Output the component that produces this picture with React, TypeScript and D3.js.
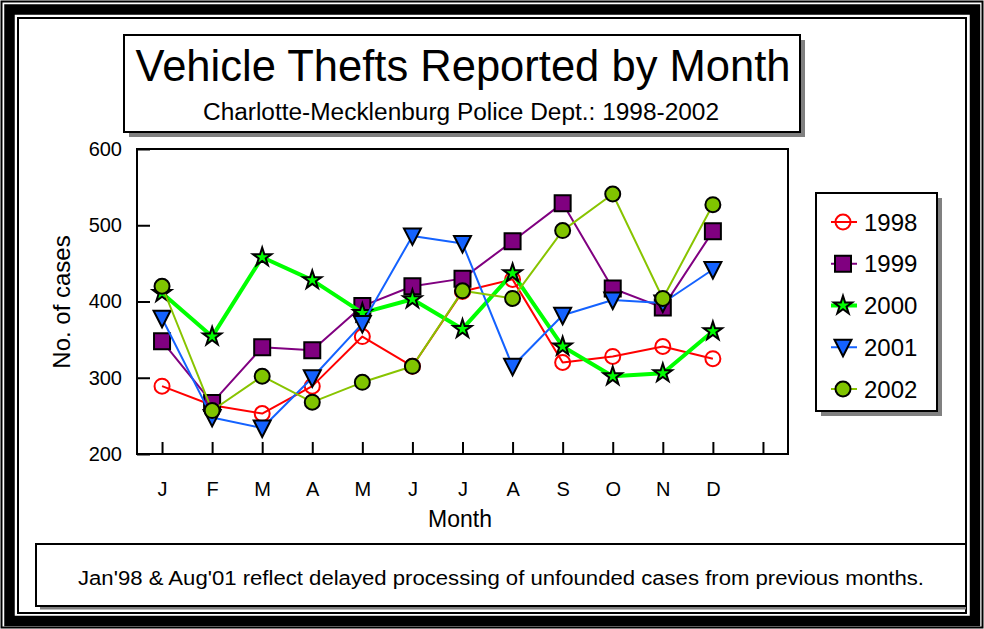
import React, { useEffect, useRef } from "react";
import * as d3 from "d3";

const months = ["J", "F", "M", "A", "M", "J", "J", "A", "S", "O", "N", "D"];
const years = ["1998", "1999", "2000", "2001", "2002"];
const yTicks = [200, 300, 400, 500, 600];

const v1998 = [289, 264, 253, 289, 354, 315, 413, 429, 320, 328, 341, 325];
const v1999 = [348, 267, 340, 336, 394, 420, 430, 479, 529, 417, 392, 492];
const v2000 = [411, 354, 458, 428, 385, 403, 364, 437, 341, 302, 306, 361];
const v2001 = [378, 248, 234, 300, 371, 486, 476, 315, 382, 402, 398, 442];
const v2002 = [420, 257, 302, 268, 294, 315, 414, 404, 493, 541, 404, 527];

const title = "Vehicle Thefts Reported by Month";
const subtitle = "Charlotte-Mecklenburg Police Dept.: 1998-2002";
const note =
  "Jan'98 & Aug'01 reflect delayed processing of unfounded cases from previous months.";

const FONT = "'Liberation Sans', Arial, Helvetica, sans-serif";

// style for each year, same order as `years`
const styles = [
  { line: "#ff0000", width: 2, marker: "ring", fill: "none", stroke: "#ff0000" },
  { line: "#800080", width: 2, marker: "square", fill: "#800080", stroke: "#000" },
  { line: "#00ff00", width: 4, marker: "star", fill: "#00ff00", stroke: "#000" },
  { line: "#1462ff", width: 2, marker: "tri", fill: "#1462ff", stroke: "#000" },
  { line: "#88c400", width: 2, marker: "dot", fill: "#80c400", stroke: "#000" },
];

const markerPath = (kind: string) => {
  if (kind === "square") return d3.symbol().type(d3.symbolSquare).size(256)();
  if (kind === "star") return d3.symbol().type(d3.symbolStar).size(105)();
  if (kind === "tri") return "M-8.5,-7.5L8.5,-7.5L0,9Z";
  return d3.symbol().type(d3.symbolCircle).size(Math.PI * 7.5 * 7.5)();
};

const App = () => {
  const ref = useRef<SVGSVGElement>(null);

  useEffect(() => {
    const W = 984;
    const H = 629;
    const left = 137;
    const right = 788;
    const top = 149;
    const bottom = 454;

    const svg = d3.select(ref.current);
    svg.selectAll("*").remove();
    svg.append("rect").attr("width", W).attr("height", H).attr("fill", "#fff");

    // frame
    svg.append("rect").attr("x", 1.5).attr("y", 1.5).attr("width", 981).attr("height", 626)
      .attr("fill", "none").attr("stroke", "#000").attr("stroke-width", 2);
    svg.append("rect").attr("x", 9.5).attr("y", 9.5).attr("width", 965.5).attr("height", 611.5)
      .attr("fill", "none").attr("stroke", "#000").attr("stroke-width", 10.5);
    svg.append("rect").attr("x", 18).attr("y", 18).attr("width", 948).attr("height", 595)
      .attr("fill", "none").attr("stroke", "#000").attr("stroke-width", 2);

    const box = (x: number, y: number, w: number, h: number, shadow = true) => {
      if (shadow)
        svg.append("rect").attr("x", x + 5).attr("y", y + 5).attr("width", w).attr("height", h)
          .attr("fill", "#808080");
      svg.append("rect").attr("x", x).attr("y", y).attr("width", w).attr("height", h)
        .attr("fill", "#fff").attr("stroke", "#000").attr("stroke-width", 2);
    };

    // title box
    box(124, 35, 676, 97);
    svg.append("text").attr("x", 463).attr("y", 81).attr("text-anchor", "middle")
      .attr("font-family", FONT).attr("font-size", 44)
      .attr("textLength", 655).attr("lengthAdjust", "spacingAndGlyphs").text(title);
    svg.append("text").attr("x", 461).attr("y", 120).attr("text-anchor", "middle")
      .attr("font-family", FONT).attr("font-size", 23)
      .attr("textLength", 516).attr("lengthAdjust", "spacingAndGlyphs").text(subtitle);

    // footnote box
    box(36, 544, 930, 62, false);
    svg.append("rect").attr("x", 40).attr("y", 607).attr("width", 926).attr("height", 2.5)
      .attr("fill", "#808080");
    svg.append("text").attr("x", 501).attr("y", 585).attr("text-anchor", "middle")
      .attr("font-family", FONT).attr("font-size", 20)
      .attr("textLength", 846).attr("lengthAdjust", "spacingAndGlyphs").text(note);

    const x = d3.scaleLinear().domain([-0.5, 12.5]).range([left, right]);
    const y = d3.scaleLinear().domain([200, 600]).range([bottom, top]);

    // axes
    const gx = svg.append("g").attr("transform", `translate(0,${bottom})`)
      .call(
        d3.axisBottom(x).tickValues(d3.range(13)).tickSize(-12).tickPadding(28)
          .tickFormat((d) => months[d as number] ?? "")
      );
    const gy = svg.append("g").attr("transform", `translate(${left},0)`)
      .call(d3.axisLeft(y).tickValues(yTicks).tickSize(-13).tickPadding(15).tickFormat(d3.format("d")));
    [gx, gy].forEach((g) => {
      g.select(".domain").remove();
      g.selectAll("line").attr("stroke", "#000").attr("stroke-width", 2);
      g.selectAll("text").attr("font-family", FONT).attr("font-size", 20).attr("fill", "#000");
    });

    svg.append("rect").attr("x", left).attr("y", top).attr("width", right - left)
      .attr("height", bottom - top).attr("fill", "none").attr("stroke", "#000").attr("stroke-width", 2);

    svg.append("text").attr("x", 460).attr("y", 527).attr("text-anchor", "middle")
      .attr("font-family", FONT).attr("font-size", 23).text("Month");
    svg.append("text").attr("transform", "translate(70,302) rotate(-90)").attr("text-anchor", "middle")
      .attr("font-family", FONT).attr("font-size", 24).text("No. of cases");

    // series
    const series = [v1998, v1999, v2000, v2001, v2002];
    const lineGen = d3.line<number>().x((_, i) => x(i)).y((d) => y(d));
    series.forEach((vals, si) => {
      const st = styles[si];
      const g = svg.append("g");
      g.append("path").attr("d", lineGen(vals)).attr("fill", "none")
        .attr("stroke", st.line).attr("stroke-width", st.width).attr("stroke-linejoin", "round");
      g.selectAll("path.m").data(vals).join("path").attr("class", "m")
        .attr("d", markerPath(st.marker))
        .attr("transform", (d, i) => `translate(${x(i)},${y(d)})`)
        .attr("fill", st.fill).attr("stroke", st.stroke).attr("stroke-width", 2);
    });

    // legend
    box(816, 193, 121, 218);
    const ly = d3.scalePoint().domain(years).range([222, 389]);
    years.forEach((yr, si) => {
      const st = styles[si];
      const cy = ly(yr) as number;
      svg.append("line").attr("x1", 831).attr("x2", 857).attr("y1", cy).attr("y2", cy)
        .attr("stroke", st.line).attr("stroke-width", st.width);
      svg.append("path").attr("d", markerPath(st.marker)).attr("transform", `translate(843,${cy})`)
        .attr("fill", st.fill).attr("stroke", st.stroke).attr("stroke-width", 2);
      svg.append("text").attr("x", 864).attr("y", cy).attr("dy", "0.36em")
        .attr("font-family", FONT).attr("font-size", 24).text(yr);
    });
  }, []);

  return (
    <div style={{ position: "absolute", left: 0, top: 0 }}>
      <svg ref={ref} width={984} height={629} style={{ display: "block" }} />
    </div>
  );
};

export default App;
